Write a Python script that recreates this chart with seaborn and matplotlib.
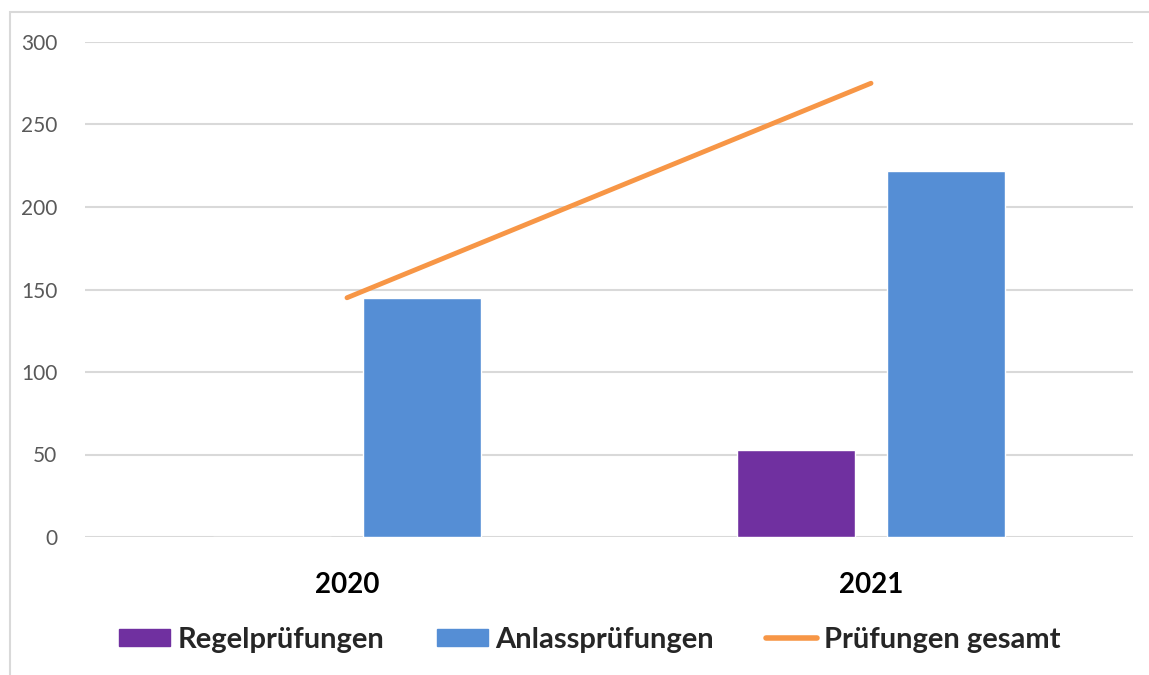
import pandas as pd
import matplotlib.pyplot as plt
import matplotlib.patches as mpatches
from matplotlib.lines import Line2D
import seaborn as sns
import numpy as np

# Daten
jahre = ["2020", "2021"]
regelpruefungen = [0, 53]
anlasspruefungen = [145, 222]
gesamt = [145, 275]

serien = ["Regelprüfungen", "Anlassprüfungen"]
farben = {"Regelprüfungen": "#7030A0", "Anlassprüfungen": "#558ED5"}
farbe_linie = "#F79646"

df = pd.DataFrame({
    "Jahr": jahre * 2,
    "Serie": [serien[0]] * len(jahre) + [serien[1]] * len(jahre),
    "Wert": regelpruefungen + anlasspruefungen,
})

sns.set_style("white")
plt.rcParams["font.family"] = ["Lato", "DejaVu Sans"]

fig = plt.figure(figsize=(11.49, 6.75), dpi=100)
ax = fig.add_axes([85 / 1149, 1 - 537 / 675, (1133 - 85) / 1149, (537 - 42) / 675])

# Rahmen um das Diagramm
fig.patches.append(mpatches.Rectangle((10 / 1149, -0.1), 1.2, 1 - 12 / 675 + 0.1,
                                      transform=fig.transFigure, fill=False,
                                      edgecolor="#D9D9D9", linewidth=1.5, zorder=0))

sns.barplot(data=df, x="Jahr", y="Wert", hue="Serie", order=jahre, hue_order=serien,
            palette=farben, width=0.57, gap=0.21, saturation=1, legend=False, ax=ax)

sns.lineplot(x=np.arange(len(jahre)), y=gesamt, color=farbe_linie, linewidth=3.5,
             ax=ax, solid_capstyle="round")

ax.set_xlim(-0.5, 1.5)
ax.set_ylim(0, 300)
ax.set_yticks(range(0, 301, 50))
ax.set_xticks(range(len(jahre)))
ax.set_xticklabels(jahre, fontsize=20, fontweight="bold", color="black")
ax.tick_params(axis="y", labelsize=15, labelcolor="#595959", length=0, pad=20)
ax.tick_params(axis="x", length=0, pad=25)
ax.set_xlabel("")
ax.set_ylabel("")
ax.grid(axis="y", color="#D9D9D9", linewidth=1.5)
ax.set_axisbelow(True)
for s in ax.spines.values():
    s.set_visible(False)

handles = [
    mpatches.Patch(color=farben["Regelprüfungen"], label="Regelprüfungen"),
    mpatches.Patch(color=farben["Anlassprüfungen"], label="Anlassprüfungen"),
    Line2D([0], [0], color=farbe_linie, linewidth=4, solid_capstyle="round", label="Prüfungen gesamt"),
]
fig.legend(handles=handles, loc="center", bbox_to_anchor=(590 / 1149, 1 - 640 / 675),
           ncol=3, frameon=False, prop={"size": 21, "weight": "bold"},
           handlelength=1.75, handleheight=0.55, handletextpad=0.25, columnspacing=1.8)

fig.savefig("out.png", dpi=100)
